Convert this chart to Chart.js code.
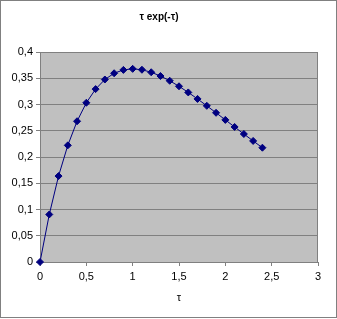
<!DOCTYPE html>
<html>
<head>
<meta charset="utf-8">
<script src="https://cdn.jsdelivr.net/npm/chart.js@4/dist/chart.umd.min.js"></script>
<style>
html,body{margin:0;padding:0;background:#fff;}
#wrap{width:337px;height:319px;}
</style>
</head>
<body>
<div id="wrap"><canvas id="c" width="337" height="319"></canvas></div>
<script>
const tauValues = [0,0.1,0.2,0.3,0.4,0.5,0.6,0.7,0.8,0.9,1.0,1.1,1.2,1.3,1.4,1.5,1.6,1.7,1.8,1.9,2.0,2.1,2.2,2.3,2.4];
const seriesValues = [0,0.0905,0.1637,0.2222,0.2681,0.3033,0.3293,0.3476,0.3595,0.3659,0.3679,0.3662,0.3614,0.3543,0.3452,0.3347,0.3230,0.3106,0.2975,0.2842,0.2707,0.2572,0.2438,0.2306,0.2177];
const titleText = 'τ exp(-τ)';
const xTitle = 'τ';

const fmt = v => String(Math.round(v*100)/100).replace('.', ',');

const bgPlugin = {
  id: 'bg',
  beforeDraw(chart) {
    const ctx = chart.ctx, a = chart.chartArea;
    ctx.save();
    ctx.fillStyle = '#ffffff';
    ctx.fillRect(0,0,chart.width,chart.height);
    ctx.strokeStyle = '#808080';
    ctx.lineWidth = 1;
    ctx.strokeRect(0.5,0.5,chart.width-1,chart.height-2);
    ctx.fillStyle = '#c0c0c0';
    ctx.fillRect(a.left,a.top,a.right-a.left,a.bottom-a.top);
    ctx.restore();
  },
  afterDatasetsDraw(chart) {},
  beforeDatasetsDraw(chart) {
    const ctx = chart.ctx, a = chart.chartArea;
    ctx.save();
    ctx.strokeStyle = '#808080';
    ctx.lineWidth = 1;
    ctx.strokeRect(Math.round(a.left)+0.5, Math.round(a.top)+0.5, Math.round(a.right-a.left)-1, Math.round(a.bottom-a.top));
    ctx.restore();
  }
};

new Chart(document.getElementById('c'), {
  type: 'line',
  data: {
    datasets: [{
      data: tauValues.map((t,i)=>({x:t,y:seriesValues[i]})),
      borderColor: '#000080',
      backgroundColor: '#000080',
      borderWidth: 1,
      pointStyle: 'rectRot',
      pointRadius: 3.5,
      pointHoverRadius: 3.5,
      tension: 0,
      clip: false
    }]
  },
  options: {
    responsive: false,
    animation: false,
    events: [],
    layout: { padding: { left: 0, right: 19, top: 0, bottom: 0 } },
    plugins: {
      legend: { display: false },
      tooltip: { enabled: false },
      title: {
        display: true,
        text: titleText,
        color: '#000',
        font: { family: 'Liberation Sans', size: 10, weight: 'bold' },
        padding: { top: 11, bottom: 29 }
      }
    },
    scales: {
      x: {
        type: 'linear',
        min: 0, max: 3,
        ticks: { stepSize: 0.5, color: '#000', font: { family: 'Liberation Sans', size: 11 }, padding: 4, callback: v => fmt(v), maxRotation: 0 },
        grid: { drawOnChartArea: false, drawTicks: true, tickLength: 4, color: '#808080' },
        border: { display: true, color: '#808080' },
        title: { display: true, text: xTitle, color: '#000', font: { family: 'Liberation Sans', size: 11 }, padding: { top: 0, bottom: 14 } },
        afterFit: s => { s.height = 57; }
      },
      y: {
        min: 0, max: 0.4,
        ticks: { stepSize: 0.05, color: '#000', font: { family: 'Liberation Sans', size: 11 }, padding: 3, callback: v => fmt(v) },
        grid: { drawOnChartArea: true, drawTicks: true, tickLength: 4, color: '#808080' },
        border: { display: true, color: '#808080' },
        afterFit: s => { s.width = 40; }
      }
    }
  },
  plugins: [bgPlugin]
});
</script>
</body>
</html>
